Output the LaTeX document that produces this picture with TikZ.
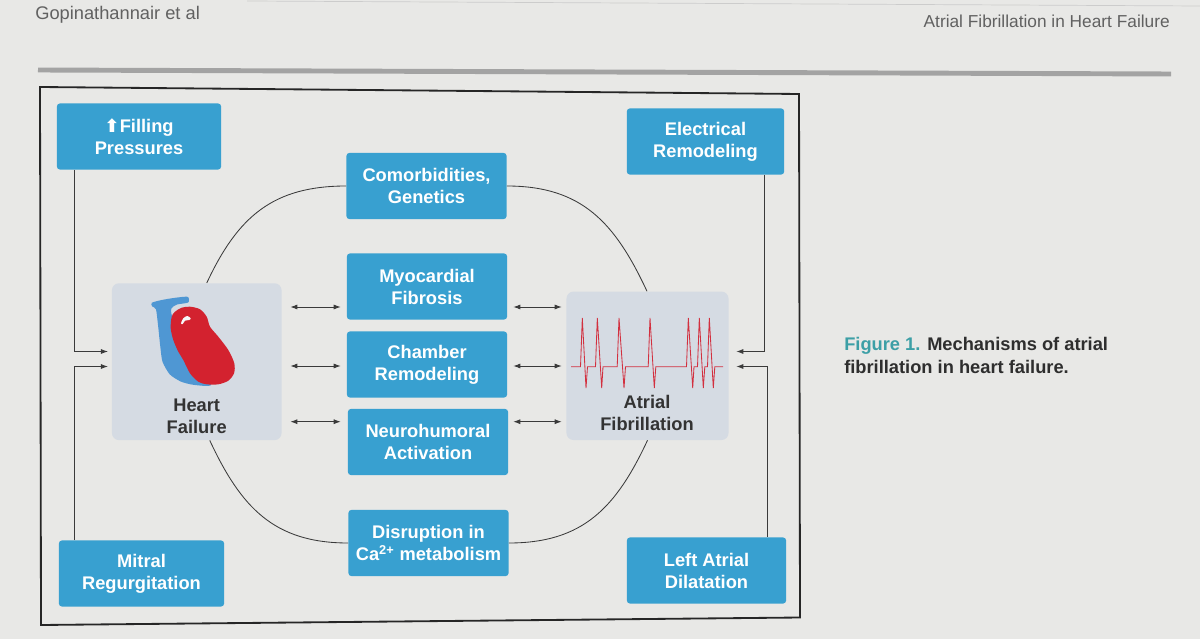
\documentclass[tikz,border=0pt]{standalone}
\usepackage{fontspec}
\setmainfont{Liberation Sans}
\newfontfamily\arrowfont{DejaVu Sans}
\usepackage{xcolor}
\usepackage{tikz}
\usetikzlibrary{arrows.meta,calc}
\definecolor{pagebg}{HTML}{E8E8E6}
\definecolor{boxblue}{HTML}{38A0D0}
\definecolor{panelgray}{HTML}{D5DBE3}
\definecolor{heartblue}{HTML}{4F97D3}
\definecolor{heartred}{HTML}{D3222F}
\definecolor{ecgred}{HTML}{D2303F}
\definecolor{linkgray}{HTML}{3A3A3A}
\definecolor{captionteal}{HTML}{3C9FA6}
\tikzset{mechbox/.style={shape=rectangle,fill=boxblue,rounded corners=2pt,text=white,font=\fontsize{13}{15.6}\selectfont\bfseries,align=center,minimum width=4cm,minimum height=1.65cm,inner sep=0pt}}
\tikzset{panelbox/.style={shape=rectangle,fill=panelgray,rounded corners=5pt,inner sep=0pt}}
\tikzset{paneltext/.style={text=black!80,font=\fontsize{13}{15.6}\selectfont\bfseries,align=center,inner sep=0pt}}
\tikzset{link/.style={draw=linkgray,line width=0.6pt}}

\begin{document}
\begin{tikzpicture}[x=0.025cm,y=0.025cm,>={Latex[length=5pt,width=3.6pt]}]
	\useasboundingbox (0,0) rectangle (1200,639);
	\fill[pagebg] (0,0) rectangle (1200,639);
	% page header
	\draw[black!20,line width=0.5pt] (247,638) -- (1200,633);
	\node[anchor=base west,inner sep=0pt,text=black!62,font=\fontsize{13}{15}\selectfont] (author) at (35,619) {Gopinathannair et al};
	\node[anchor=base east,inner sep=0pt,text=black!62,font=\fontsize{12.3}{15}\selectfont] (runhead) at (1170,611) {Atrial Fibrillation in Heart Failure};
	\draw[black!36,line width=3.5pt] (38,569) -- (1171,565);
	\draw[black!85,line width=1.3pt] (40,552) -- (799,545) -- (800,21.5) -- (41,14) -- cycle;
	%
	\node[panelbox,minimum width=4.24cm,minimum height=3.92cm] (hf) at (196.75,277.3) {};
	\node[panelbox,minimum width=4.05cm,minimum height=3.71cm] (af) at (647.5,273.2) {};
	\node[paneltext] (hflabel) at (196.7,223) {Heart\\Failure};
	\node[paneltext] (aflabel) at (647,226) {Atrial\\Fibrillation};
	%
	\node[mechbox,minimum width=4.1cm] (filling) at (139,502.5) {{\arrowfont\bfseries ⬆}Filling\\Pressures};
	\node[mechbox] (comorb) at (426.5,453) {Comorbidities,\\Genetics};
	\node[mechbox,minimum width=3.93cm] (elec) at (705.5,497.5) {Electrical\\Remodeling};
	\node[mechbox] (myo) at (427,352.5) {Myocardial\\Fibrosis};
	\node[mechbox] (chamber) at (427,274.5) {Chamber\\Remodeling};
	\node[mechbox] (neuro) at (428,197) {Neurohumoral\\Activation};
	\node[mechbox] (disrupt) at (428.5,96) {Disruption in\\Ca\textsuperscript{2+} metabolism};
	\node[mechbox,minimum width=4.125cm] (mitral) at (141.5,65.5) {Mitral\\Regurgitation};
	\node[mechbox,minimum width=3.975cm] (lad) at (706.5,68.5) {Left Atrial\\Dilatation};
	%
	% heart
	\fill[heartblue] plot[smooth cycle,tension=0.4] coordinates {(151.7,336.2) (161.7,339) (175,341.2) (187.8,342.2) (188.2,336.5) (177,334.5) (171.5,330.7) (172.5,322.3) (187.5,302.3) (201,272.3) (211,254) (193.3,254.2) (180.7,257.5) (169.7,264.7) (162.5,277.3) (160.3,292.3) (158.2,312.3) (156,329.7) (152.3,332.5)};
	\fill[heartred] plot[smooth cycle,tension=0.5] coordinates {(171.7,322.3) (175,327.3) (181.7,331.3) (190,332.3) (200,329.7) (206.7,322.3) (210,312.3) (218.3,302.3) (228.3,289) (234.3,275.7) (234,265.7) (228.3,258.3) (218.3,254.7) (206.7,254.7) (198.3,257.3) (190,265.7) (183.3,279) (178.3,287.3) (173.3,299) (170.7,310.7)};
	\fill[white!80!panelgray] plot[smooth cycle,tension=0.5] coordinates {(181,315.7) (183.3,320.7) (187.3,323) (190.7,320.7) (189.3,319) (185,318.3) (182.7,315)};
	% ecg trace
	\draw[ecgred,line width=0.6pt] (571,272.3) -- (580.5,272.3) -- (582.3,321) -- (586,251) -- (587.5,272.3) -- (595.5,272.3) -- (597.3,321) -- (601.7,251) -- (603,272.3) -- (617.2,272.3) -- (619,321) -- (624,251) -- (625.5,272.3) -- (648.2,272.3) -- (650,321) -- (654.3,251) -- (655.8,272.3) -- (686.5,272.3) -- (688.3,321) -- (692.7,251) -- (694,272.3) -- (697.5,272.3) -- (699.3,321) -- (703.3,251) -- (704.8,272.3) -- (707.5,272.3) -- (709.3,321) -- (713.3,251) -- (714.8,272.3) -- (723,272.3);
	%
	\draw[link,->] ($(filling.south west)+(17.6,0)$) |- ($(hf.west)+(-3.7,10.2)$);
	\draw[link,->] ($(mitral.north west)+(15.6,0)$) |- ($(hf.west)+(-3.7,-4.8)$);
	\draw[link,->] ($(elec.south east)+(-19.5,0)$) |- ($(af.east)+(7.5,14.3)$);
	\draw[link,->] ($(lad.north east)+(-19,0)$) |- ($(af.east)+(7.5,-0.7)$);
	%
	\draw[link,<->] ($(hf.east |- myo.west)+(8.5,-20.5)$) -- ($(myo.west)+(-6,-20.5)$);
	\draw[link,<->] ($(hf.east |- chamber.west)+(8.5,-1.5)$) -- ($(chamber.west)+(-6,-1.5)$);
	\draw[link,<->] ($(hf.east |- neuro.west)+(8.5,20.3)$) -- ($(neuro.west)+(-7,20.3)$);
	\draw[link,<->] ($(myo.east)+(6,-20.5)$) -- ($(af.west |- myo.east)+(-4.5,-20.5)$);
	\draw[link,<->] ($(chamber.east)+(6,-1.5)$) -- ($(af.west |- chamber.east)+(-4.5,-1.5)$);
	\draw[link,<->] ($(neuro.east)+(5,20.3)$) -- ($(af.west |- neuro.east)+(-4.5,20.3)$);
	%
	\draw[link] ($(hf.north)+(10,0)$) to[out=65,in=180,looseness=1.1] (comorb.west);
	\draw[link] (comorb.east) to[out=0,in=115,looseness=1.1] ($(af.north)+(-0.5,0)$);
	\draw[link] ($(hf.south)+(13,0)$) to[out=-65,in=180,looseness=1.1] (disrupt.west);
	\draw[link] (disrupt.east) to[out=0,in=-115,looseness=1.1] (af.south);
	%
	\node[anchor=base west,inner sep=0pt,align=left,text=black!82,font=\fontsize{13}{15.9}\selectfont\bfseries] (caption) at (844,265.7) {\textcolor{captionteal}{Figure 1.} Mechanisms of atrial\\fibrillation in heart failure.};
\end{tikzpicture}
\end{document}
